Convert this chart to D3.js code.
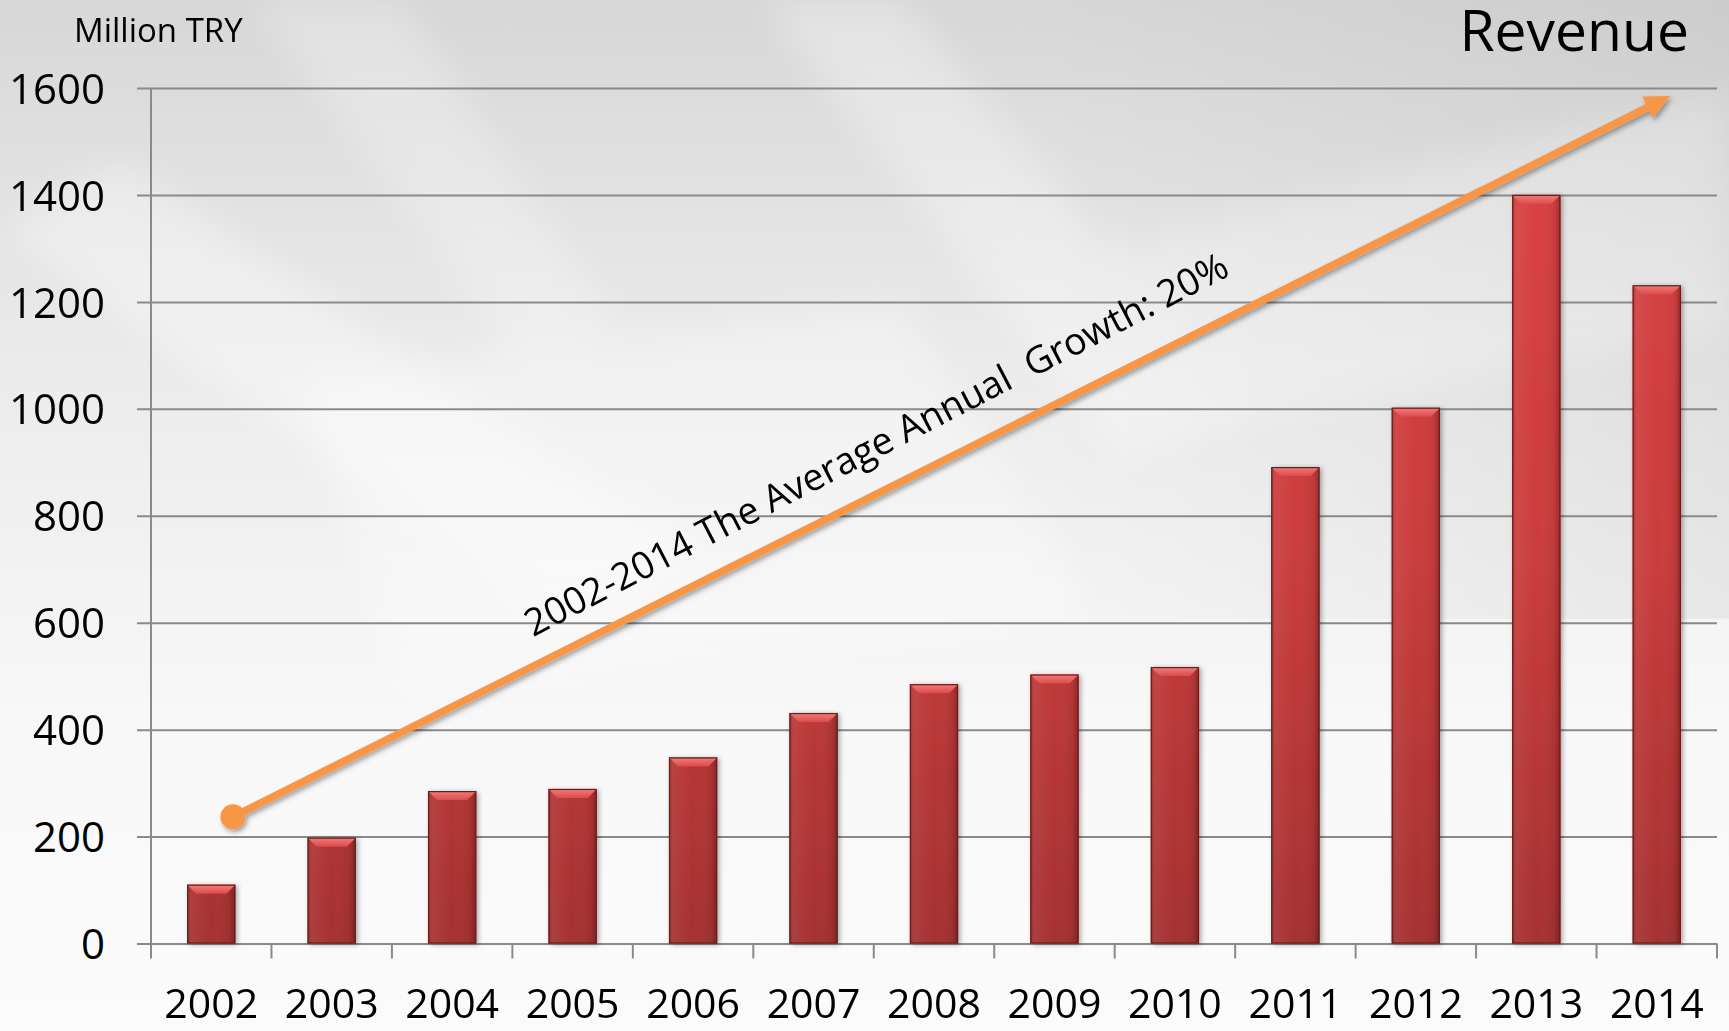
<!DOCTYPE html>
<html>
<head>
<meta charset="utf-8">
<script src="https://cdn.jsdelivr.net/npm/d3@7"></script>
<style>
  html, body { margin: 0; padding: 0; background: #fff; }
  svg { display: block; }
</style>
</head>
<body>
<div id="chart"></div>
<script>
// ---- data ----
const years = ["2002","2003","2004","2005","2006","2007","2008","2009","2010","2011","2012","2013","2014"];
const revenue = [110, 198, 285, 289, 348, 431, 485, 503, 517, 891, 1002, 1400, 1231];
const yTicks = [0, 200, 400, 600, 800, 1000, 1200, 1400, 1600];
const trendYears = [2002.18, 2014.11];
const trendValues = [237, 1585];
const trendLabel = "2002-2014 The Average Annual  Growth: 20%";
const unitLabel = "Million TRY";
const titleText = "Revenue";

// ---- layout ----
const W = 1729, H = 1031;
const plotLeft = 151, plotRight = 1717, plotTop = 88, plotBottom = 943.5;
const font = "'Open Sans', 'Noto Sans', sans-serif";

const svg = d3.select("#chart").append("svg").attr("width", W).attr("height", H);
const defs = svg.append("defs");

// background gradient
const bg = defs.append("linearGradient").attr("id", "bg").attr("x1", 0).attr("y1", 0).attr("x2", 0).attr("y2", 1);
bg.append("stop").attr("offset", "0%").attr("stop-color", "#d7d7d7");
bg.append("stop").attr("offset", "35%").attr("stop-color", "#ebebeb");
bg.append("stop").attr("offset", "70%").attr("stop-color", "#f8f8f8");
bg.append("stop").attr("offset", "100%").attr("stop-color", "#fbfbfb");

const bg2 = defs.append("linearGradient").attr("id", "bg2").attr("x1", 0).attr("y1", 0).attr("x2", 1).attr("y2", 0);
bg2.append("stop").attr("offset", "0%").attr("stop-color", "#000").attr("stop-opacity", 0.0);
bg2.append("stop").attr("offset", "60%").attr("stop-color", "#000").attr("stop-opacity", 0.0);
bg2.append("stop").attr("offset", "100%").attr("stop-color", "#000").attr("stop-opacity", 0.05);

const blur = defs.append("filter").attr("id", "blur").attr("x", "-20%").attr("y", "-20%").attr("width", "140%").attr("height", "140%");
blur.append("feGaussianBlur").attr("stdDeviation", 18);

svg.append("rect").attr("width", W).attr("height", H).attr("fill", "url(#bg)");
svg.append("rect").attr("width", W).attr("height", H * 0.6).attr("fill", "url(#bg2)");

// subtle diagonal streaks
const streaks = svg.append("g").attr("filter", "url(#blur)");
streaks.append("path").attr("d", "M0,230 L120,160 L700,560 L560,620 Z").attr("fill", "#fff").attr("opacity", 0.35);
streaks.append("path").attr("d", "M760,0 L900,0 L1250,420 L1120,460 Z").attr("fill", "#fff").attr("opacity", 0.3);
streaks.append("path").attr("d", "M250,0 L400,0 L620,330 L520,360 Z").attr("fill", "#fff").attr("opacity", 0.25);
streaks.append("path").attr("d", "M1100,250 L1729,90 L1729,330 L1250,420 Z").attr("fill", "#fff").attr("opacity", 0.25);
streaks.append("path").attr("d", "M300,380 L900,300 L1100,620 L400,700 Z").attr("fill", "#fff").attr("opacity", 0.3);

// ---- scales ----
const x = d3.scaleBand().domain(years).range([plotLeft, plotRight]).paddingInner(0.6).paddingOuter(0.3);
const y = d3.scaleLinear().domain([0, 1600]).range([plotBottom, plotTop]);
const xYear = d3.scaleLinear().domain([+years[0], +years[years.length - 1]])
  .range([x(years[0]) + x.bandwidth() / 2, x(years[years.length - 1]) + x.bandwidth() / 2]);

// ---- y axis with gridlines ----
const gridStart = plotLeft - 14;
const yAxis = d3.axisLeft(y).tickValues(yTicks).tickFormat(d3.format("d"))
  .tickSize(-(plotRight - gridStart)).tickPadding(32);
const gy = svg.append("g").attr("transform", `translate(${gridStart},0)`).call(yAxis);
gy.select(".domain").remove();
gy.selectAll(".tick line").attr("stroke", "#8a8a8a").attr("stroke-width", 2);
gy.selectAll(".tick text").attr("fill", "#000").attr("font-family", font).attr("font-size", 42)
  .attr("dy", "0.36em");

// vertical axis line
svg.append("line").attr("x1", plotLeft).attr("x2", plotLeft).attr("y1", plotTop).attr("y2", plotBottom + 15)
  .attr("stroke", "#8a8a8a").attr("stroke-width", 2);

// x category ticks at band boundaries
const boundaries = years.map(d => x(d) - x.step() * x.paddingInner() / 2).concat([plotRight]);
svg.append("g").selectAll("line").data(boundaries.slice(1)).join("line")
  .attr("x1", d => d).attr("x2", d => d).attr("y1", plotBottom).attr("y2", plotBottom + 15)
  .attr("stroke", "#8a8a8a").attr("stroke-width", 2);

// x labels
const xAxis = d3.axisBottom(x).tickSize(0).tickPadding(0);
const gx = svg.append("g").attr("transform", `translate(0,${plotBottom})`).call(xAxis);
gx.select(".domain").remove();
gx.selectAll(".tick text").attr("fill", "#000").attr("font-family", font).attr("font-size", 41)
  .attr("dy", null).attr("y", 74);

// ---- bars ----
const barGrad = defs.append("linearGradient").attr("id", "barGrad").attr("gradientUnits", "userSpaceOnUse")
  .attr("x1", 0).attr("y1", plotTop).attr("x2", 0).attr("y2", plotBottom);
barGrad.append("stop").attr("offset", "0%").attr("stop-color", "#dc4242");
barGrad.append("stop").attr("offset", "55%").attr("stop-color", "#ca3c3c");
barGrad.append("stop").attr("offset", "100%").attr("stop-color", "#a53131");

const sideGrad = defs.append("linearGradient").attr("id", "sideGrad").attr("x1", 0).attr("y1", 0).attr("x2", 1).attr("y2", 0);
sideGrad.append("stop").attr("offset", "0%").attr("stop-color", "#000").attr("stop-opacity", 0.18);
sideGrad.append("stop").attr("offset", "10%").attr("stop-color", "#fff").attr("stop-opacity", 0.06);
sideGrad.append("stop").attr("offset", "50%").attr("stop-color", "#fff").attr("stop-opacity", 0.0);
sideGrad.append("stop").attr("offset", "88%").attr("stop-color", "#000").attr("stop-opacity", 0.06);
sideGrad.append("stop").attr("offset", "100%").attr("stop-color", "#000").attr("stop-opacity", 0.28);

const bevelGrad = defs.append("linearGradient").attr("id", "bevelGrad").attr("x1", 0).attr("y1", 0).attr("x2", 0).attr("y2", 1);
bevelGrad.append("stop").attr("offset", "0%").attr("stop-color", "#f27c7c");
bevelGrad.append("stop").attr("offset", "100%").attr("stop-color", "#dd4b4b");

const barShadow = defs.append("filter").attr("id", "barShadow").attr("x", "-30%").attr("y", "-10%").attr("width", "160%").attr("height", "130%");
barShadow.append("feDropShadow").attr("dx", 2).attr("dy", 1).attr("stdDeviation", 2.5)
  .attr("flood-color", "#000").attr("flood-opacity", 0.35);

const barData = years.map((d, i) => ({ year: d, value: revenue[i] }));
const bars = svg.append("g").selectAll("g").data(barData).join("g");
const bw = x.bandwidth();
bars.append("rect")
  .attr("x", d => x(d.year)).attr("y", d => y(d.value))
  .attr("width", bw).attr("height", d => y(0) - y(d.value))
  .attr("fill", "url(#barGrad)").attr("filter", "url(#barShadow)");
bars.append("rect")
  .attr("x", d => x(d.year)).attr("y", d => y(d.value))
  .attr("width", bw).attr("height", d => y(0) - y(d.value))
  .attr("fill", "url(#sideGrad)");
const bevel = 9;
bars.append("path")
  .attr("d", d => {
    const x0 = x(d.year), y0 = y(d.value);
    return `M${x0},${y0} L${x0 + bw},${y0} L${x0 + bw - bevel},${y0 + bevel} L${x0 + bevel},${y0 + bevel} Z`;
  })
  .attr("fill", "url(#bevelGrad)");
bars.append("rect")
  .attr("x", d => x(d.year) + 0.5).attr("y", d => y(d.value) + 0.5)
  .attr("width", bw - 1).attr("height", d => y(0) - y(d.value) - 1)
  .attr("fill", "none").attr("stroke", "#6e1b1b").attr("stroke-width", 1.2);

// ---- trend arrow ----
const arrowShadow = defs.append("filter").attr("id", "arrowShadow").attr("x", "-10%").attr("y", "-10%").attr("width", "120%").attr("height", "130%");
arrowShadow.append("feDropShadow").attr("dx", 2).attr("dy", 3).attr("stdDeviation", 2.5)
  .attr("flood-color", "#000").attr("flood-opacity", 0.35);

const p0 = [xYear(trendYears[0]), y(trendValues[0])];
const p1 = [xYear(trendYears[1]), y(trendValues[1])];
const ang = Math.atan2(p1[1] - p0[1], p1[0] - p0[0]);
const ux = Math.cos(ang), uy = Math.sin(ang);
const nx = -uy, ny = ux;
const headLen = 25, headHalf = 12;
const base = [p1[0] - ux * headLen, p1[1] - uy * headLen];
const arrowColor = "#f79646";

const ag = svg.append("g").attr("filter", "url(#arrowShadow)");
ag.append("line").attr("x1", p0[0]).attr("y1", p0[1]).attr("x2", base[0] + ux * 2).attr("y2", base[1] + uy * 2)
  .attr("stroke", arrowColor).attr("stroke-width", 7.5);
ag.append("path")
  .attr("d", `M${p1[0]},${p1[1]} L${base[0] + nx * headHalf},${base[1] + ny * headHalf} L${base[0] - nx * headHalf},${base[1] - ny * headHalf} Z`)
  .attr("fill", arrowColor);
ag.append("circle").attr("cx", p0[0]).attr("cy", p0[1]).attr("r", 12.5).attr("fill", arrowColor);

// label along arrow (slightly steeper than the arrow, as in the original)
const tStart = 0.217;
const st = [p0[0] + (p1[0] - p0[0]) * tStart, p0[1] + (p1[1] - p0[1]) * tStart];
const off = 26;
const lp = [st[0] + uy * off, st[1] - ux * off];
svg.append("text")
  .attr("transform", `translate(${lp[0]},${lp[1]}) rotate(${ang * 180 / Math.PI - 0.8})`)
  .attr("text-anchor", "start")
  .attr("font-family", font).attr("font-size", 37.6).attr("fill", "#000")
  .style("white-space", "pre")
  .text(trendLabel);

// ---- titles ----
svg.append("text").attr("x", 74).attr("y", 42).attr("font-family", font).attr("font-size", 33)
  .attr("fill", "#000").text(unitLabel);
svg.append("text").attr("x", 1689).attr("y", 51).attr("text-anchor", "end").attr("font-family", font)
  .attr("font-size", 57).attr("fill", "#000").text(titleText);
</script>
</body>
</html>
